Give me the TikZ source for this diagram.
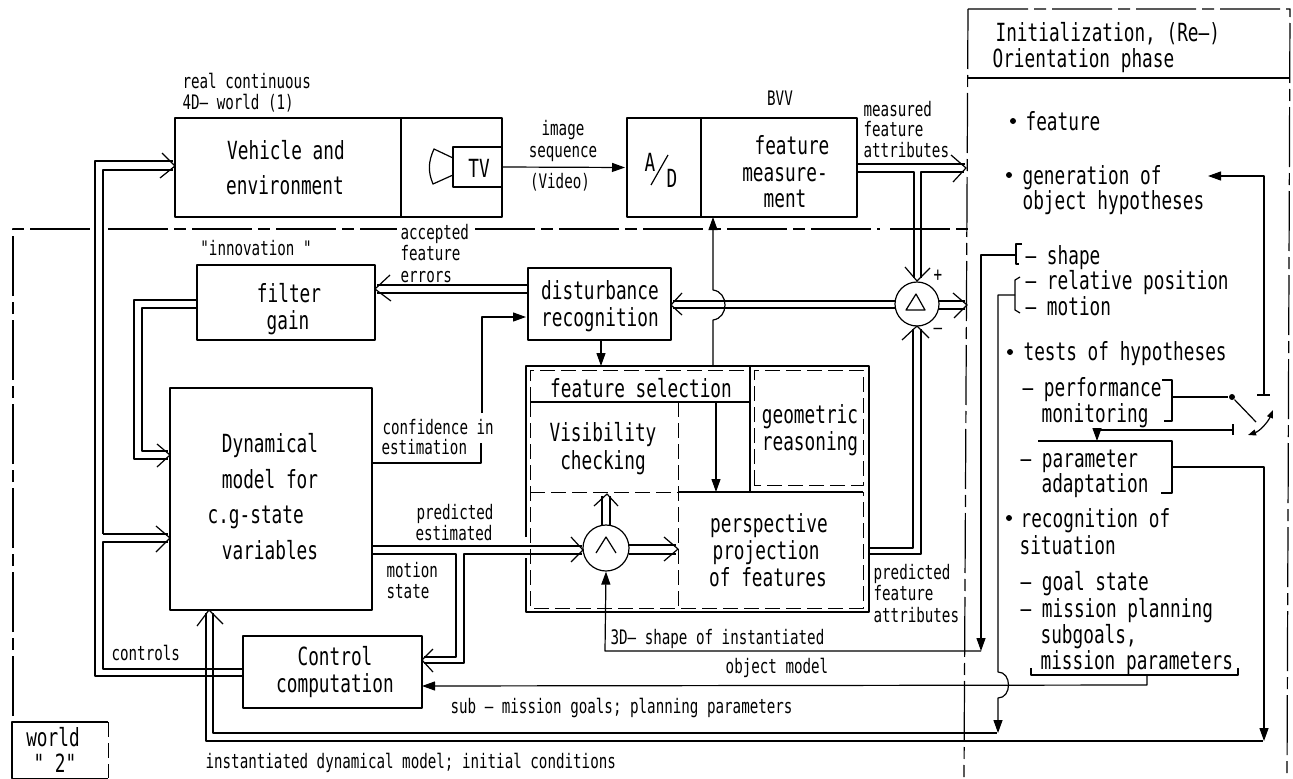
\documentclass[tikz,border=0pt]{standalone}
\usepackage{fontspec}
\usetikzlibrary{arrows.meta,calc}
\newfontfamily\plotfont[FakeStretch=0.71]{DejaVu Sans Mono}
\tikzset{
  bx/.style={draw,anchor=north west,inner sep=0pt,outer sep=0pt},
  big/.style={inner sep=0pt,font=\plotfont\fontsize{25}{25}\selectfont,text height=18pt,text depth=0pt},
  sml/.style={inner sep=0pt,font=\plotfont\fontsize{20}{20}\selectfont,text height=14.5pt,text depth=0pt},
  fa/.style={-{Triangle[length=13pt,width=9pt]}},
  dd/.style={dash pattern=on 60pt off 6pt on 12pt off 6pt},
  dsh/.style={line width=1pt,dash pattern=on 15pt off 6pt},
  dots/.style={circle,fill,inner sep=0pt,minimum size=6pt},
}
\newcommand\opn[3]{\draw ($(#1)+(#2)$) -- (#1) -- ($(#1)+(#3)$);}
\begin{document}
\begin{tikzpicture}[x=1pt,y=-1pt,line width=1.2pt,line join=round]
\useasboundingbox (0,0) rectangle (1293,779);
% boxes
\node[bx,minimum width=226pt,minimum height=99pt] (vehL) at (175,118) {};
\node[bx,minimum width=101pt,minimum height=99pt] (vehR) at (401,118) {};
\node[bx,minimum width=49pt,minimum height=40pt] (tv) at (453,147) {};
\node[bx,minimum width=74pt,minimum height=99pt] (ad) at (627,118) {};
\node[bx,minimum width=156pt,minimum height=99pt] (meas) at (701,118) {};
\node[bx,minimum width=178pt,minimum height=75pt] (filt) at (197,265) {};
\node[bx,minimum width=143pt,minimum height=72pt] (dist) at (528,268) {};
\node[bx,minimum width=202pt,minimum height=222pt] (dyn) at (170,388) {};
\node[bx,minimum width=179pt,minimum height=72pt] (ctrl) at (243,636) {};
\node[circle,draw,inner sep=0pt,minimum size=46pt] (cmp) at (606,548) {};
\node[circle,draw,inner sep=0pt,minimum size=44pt] (delta) at (917,304) {};
% box texts
\node[big] (t1) at (286,150) {Vehicle and};
\node[big] (t2) at (285,185) {environment};
\node[big] (t3) at (479,168) {TV};
\node[big] (t4) at (650,162) {A};
\node[big] (t5) at (672,178) {D};
\node[big] (t6) at (792,145) {feature};
\node[big] (t7) at (785,172) {measure-};
\node[big] (t8) at (785,198) {ment};
\node[big] (t9) at (289,293) {filter};
\node[big] (t10) at (288,320) {gain};
\node[big] (t11) at (600,290) {disturbance};
\node[big] (t12) at (600,317) {recognition};
\node[big] (t13) at (270,443) {Dynamical};
\node[big] (t14) at (270,479) {model for};
\node[big,anchor=west] (t15) at (207,514) {c.g-state};
\node[big] (t16) at (270,550) {variables};
\node[big] (t17) at (335,656) {Control};
\node[big] (t18) at (335,683) {computation};
\node[big] (t19) at (641,388) {feature selection};
\node[big] (t20) at (603,432) {Visibility};
\node[big] (t21) at (603,460) {checking};
\node[big] (t22) at (810,414) {geometric};
\node[big] (t23) at (810,441) {reasoning};
\node[big] (t24) at (769,523) {perspective};
\node[big,anchor=west] (t25) at (712,550) {projection};
\node[big] (t26) at (768,577) {of features};
\node[big] (wd) at (53,737) {world};
\node[big] (w2) at (55,763) {" 2"};
\node[anchor=north west,inner sep=0pt,minimum width=95pt,minimum height=55pt] (wb) at (12,722) {};
% small labels
\node[sml,anchor=west] at (182,81) {real continuous};
\node[sml,anchor=west] at (182,102) {4D– world (1)};
\node[sml] at (563,128) {image};
\node[sml] at (563,150) {sequence};
\node[sml] at (560,181) {(Video)};
\node[sml] at (780,98) {BVV};
\node[sml,anchor=west] at (863,109) {measured};
\node[sml,anchor=west] at (863,129) {feature};
\node[sml,anchor=west] at (863,150) {attributes};
\node[sml,anchor=west,fill=white,inner xsep=3pt] at (397,232) {accepted};
\node[sml,anchor=west] at (400,253) {feature};
\node[sml,anchor=west] at (400,275) {errors};
\node[sml] at (256,248) {"innovation "};
\node[sml,anchor=west] at (382,427) {confidence in};
\node[sml,anchor=west] at (381,447) {estimation};
\node[sml] at (455,512) {predicted};
\node[sml] at (454,533) {estimated};
\node[sml,anchor=west] at (386,570) {motion};
\node[sml,anchor=west] at (386,591) {state};
\node[sml,anchor=west] at (111,653) {controls};
\node[sml,anchor=west] at (873,572) {predicted};
\node[sml,anchor=west] at (873,593) {feature};
\node[sml,anchor=west] at (873,615) {attributes};
\node[sml,anchor=west] at (610,637) {3D– shape of instantiated};
\node[sml] at (777,666) {object model};
\node[sml,anchor=west] at (450,706) {sub – mission goals; planning parameters};
\node[sml,anchor=west] at (205,761) {instantiated dynamical model; initial conditions};
\node[sml] at (938,274) {+};
\node[sml] at (938,327) {–};
% right panel texts
\node[big,anchor=west] at (995,32) {Initialization, (Re–)};
\node[big,anchor=west] at (992,58) {Orientation phase};
\node[big,anchor=west] (f1) at (1025,121) {feature};
\node[big,anchor=west] (f2) at (1022,175) {generation of};
\node[big,anchor=west] (f3) at (1022,200) {object hypotheses};
\node[big,anchor=west] (f4) at (1025,255) {– shape};
\node[big,anchor=west] (f5) at (1025,280) {– relative position};
\node[big,anchor=west] (f6) at (1025,306) {– motion};
\node[big,anchor=west] (f7) at (1023,351) {tests of hypotheses};
\node[big,anchor=west] (f8) at (1022,387) {– performance};
\node[big,anchor=west] (f9) at (1041,413) {monitoring};
\node[big,anchor=west] (f10) at (1020,458) {– parameter};
\node[big,anchor=west] (f11) at (1041,483) {adaptation};
\node[big,anchor=west] (f12) at (1020,518) {recognition of};
\node[big,anchor=west] (f13) at (1019,545) {situation};
\node[big,anchor=west] (f14) at (1020,581) {– goal state};
\node[big,anchor=west] (f15) at (1020,608) {– mission planning};
\node[big,anchor=west] (f16) at (1040,634) {subgoals,};
\node[big,anchor=west] (f17) at (1040,660) {mission parameters};
\node[dots] (b1) at (1013,121) {};
\node[dots] (b2) at (1009,175) {};
\node[dots] (b3) at (1010,352) {};
\node[dots] (b4) at (1009,518) {};
\node[dots] (sw) at (1232,397) {};
% frame lines
\draw[dd] (13,716) -- (13,229) -- (91,229);
\draw[dd] (108,229) -- (397,229);
\draw[dd] (475,229) -- (880,229);
\draw[dd] (890,229) -- (968,229);
\draw[dd] (968,9) -- (1290,9) -- (1287,777);
\draw[dd] (968,9) -- (964,777);
\draw (968,78) -- (1290,78);
\draw (wb.north east) -- (wb.north west) -- (wb.south west) -- (wb.south east);
\draw[dsh] (wb.north east) -- (wb.south east);
% A/D slash, camera, operators
\draw (651,185) -- (668,155);
\draw (tv.west |- 0,158) -- (434,149) .. controls (428,162) and (428,172) .. (433,184) -- (tv.west |- 0,175);
\draw (596,553) -- (606,537) -- (616,553);
\draw (906,310) -- (916,294) -- (925,310) -- cycle;
% feature block
\coordinate (g1) at (526,366);
\coordinate (g2) at (869,366);
\coordinate (g3) at (869,612);
\coordinate (g4) at (526,612);
\draw (526,537) -- (g1) -- (g2) -- (g3) -- (g4) -- (526,558);
\draw[dsh] (530,402) -- (530,370) -- (748,370);
\draw[dsh] (530,402) -- (530,608) -- (863,608) -- (863,492);
\draw[dsh] (754,485) -- (754,370) -- (863,370) -- (863,485) -- (754,485);
\draw (530,402) -- (750,402);
\draw (750,366) -- (750,492);
\draw[dsh] (530,492) -- (678,492);
\draw[dsh] (678,402) -- (678,608);
\draw (678,492) -- (863,492);
\draw[fa] (716,402) -- (716,492);
\draw[fa] (dist.south -| 601,0) -- (601,366);
% up arrow with jump
\draw[fa] (713,366) -- (713,320) .. controls (729,318) and (729,292) .. (713,290) -- (713,217);
% video
\draw[fa,shorten >=2pt] (tv.east) -- (ad.west);
% doubles: controls to vehicle and model
\coordinate (c1) at (243,676);
\coordinate (c2) at (243,669);
\draw (c1) -- (95,676) -- (95,161) -- (173,161);
\draw (103,534) -- (103,170) -- (173,170);
\draw (c2) -- (103,669) -- (103,542) -- (168,542);
\draw (103,534) -- (168,534);
\coordinate (h1) at (175,166); \opn{h1}{-13,-13}{-15,12}
\coordinate (h2) at (170,538); \opn{h2}{-14,-12}{-14,14}
% filter to model
\draw (197,300) -- (134,300) -- (134,459) -- (168,459);
\draw (197,308) -- (142,308) -- (142,451) -- (168,451);
\coordinate (h3) at (170,455); \opn{h3}{-13,-11}{-13,12}
% disturbance to filter
\draw (528,285) -- (377,285);
\draw (528,293) -- (377,293);
\coordinate (h4) at (375,289); \opn{h4}{15,-14}{16,12}
% delta to disturbance
\draw (896,301) -- (673,301);
\draw (896,308) -- (673,308);
\coordinate (h5) at (671,305); \opn{h5}{11,-12}{11,10}
% model to compare and control
\draw (372,546) -- (582,546);
\draw (372,554) -- (456,554) -- (456,657) -- (424,657);
\draw (582,554) -- (464,554) -- (464,663) -- (424,663);
\coordinate (h6) at (583,550); \opn{h6}{-12,-13}{-12,12}
\coordinate (h7) at (422,660); \opn{h7}{11,-11}{11,12}
% compare up and right
\draw (602,525) -- (602,496);
\draw (610,525) -- (610,496);
\coordinate (h8) at (607,494); \opn{h8}{-13,12}{11,12}
\draw (629,545) -- (676,545);
\draw (629,554) -- (676,554);
\coordinate (h9) at (678,549); \opn{h9}{-14,-12}{-14,12}
% perspective to delta
\draw (869,548) -- (913,548) -- (913,329);
\draw (869,554) -- (921,554) -- (921,329);
\coordinate (h10) at (917,326); \opn{h10}{-15,14}{12,12}
% measured
\draw (meas.east |- 0,164) -- (965,164);
\draw (meas.east |- 0,172) -- (914,172) -- (914,278);
\draw (921,278) -- (921,172) -- (964,172);
\coordinate (h11) at (966,168); \opn{h11}{-15,-13}{-13,14}
\coordinate (h12) at (917,281); \opn{h12}{-12,-14}{13,-13}
% delta out
\draw (938,301) -- (965,301);
\draw (938,309) -- (965,309);
\coordinate (h13) at (967,305); \opn{h13}{-14,-12}{-13,13}
% instantiated model
\draw (206,613) -- (206,741) -- (1263,741);
\draw (213,613) -- (213,733) -- (997,733);
\coordinate (h14) at (209,610); \opn{h14}{-12,16}{14,14}
% confidence
\draw (372,463) -- (481,463) -- (481,443);
\draw[fa,shorten >=2pt] (482,413) -- (482,317) -- (dist.west |- 0,317);
% shape and 3D model
\draw[fa] (1015,255) -- (981,255) -- (981,651);
\draw[fa] (981,651) -- (605,651) -- (cmp.south);
\draw (1022,244) -- (1016,244) -- (1016,264) -- (1019,264);
% relative position
\draw[fa] (1015,295) -- (998,295) -- (998,672) .. controls (1012,672) and (1012,698) .. (998,698) -- (998,733);
\draw (1020,277) -- (1015,280) -- (1015,310) -- (1020,313);
% submission goals
\draw (1031,668) -- (1031,675) -- (1238,675) -- (1238,668);
\draw[fa] (1147,675) -- (1147,685) -- (ctrl.east |- 0,686);
% performance monitoring / switch
\draw (1162,380) -- (1172,380) -- (1172,421) -- (1164,421);
\draw (1172,397) -- (sw);
\draw (sw) -- (1256,422);
\draw[fa] (1264,395) -- (1264,176) -- (1208,176);
\draw (1257,395) -- (1270,395);
\draw (1233,424) -- (1233,435);
\draw[fa] (1233,430) -- (1097,430) -- (1097,441);
\draw[{Triangle[length=8pt,width=6pt]}-{Triangle[length=8pt,width=6pt]}] (1248,435) .. controls (1260,431) and (1268,422) .. (1273,410);
% parameter adaptation
\draw (1038,441) -- (1172,441) -- (1172,493) -- (1161,493);
\draw[fa] (1172,467) -- (1264,467) -- (1264,741);
\end{tikzpicture}
\end{document}
